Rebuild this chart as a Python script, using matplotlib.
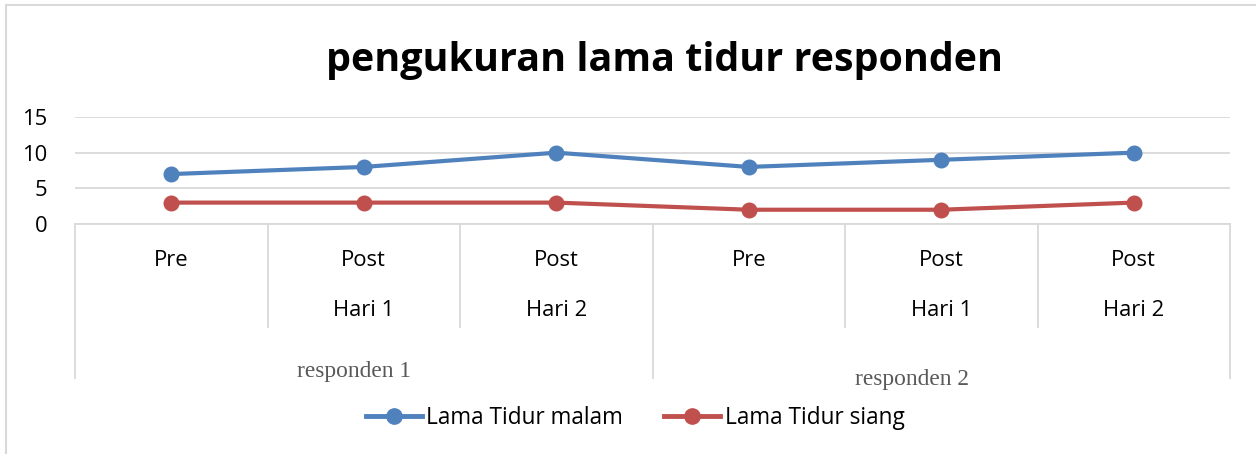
import matplotlib
matplotlib.use("Agg")
import matplotlib.pyplot as plt
from matplotlib.transforms import blended_transform_factory
from matplotlib.lines import Line2D

# ---- data ----
line1 = ["Pre", "Post", "Post", "Pre", "Post", "Post"]
line2 = ["", "Hari 1", "Hari 2", "", "Hari 1", "Hari 2"]
groups = ["responden 1", "responden 2"]
malam = [7, 8, 10, 8, 9, 10]
siang = [3, 3, 3, 2, 2, 3]
yticks = [0, 5, 10, 15]
title = "pengukuran lama tidur responden"
series_names = ["Lama Tidur malam", "Lama Tidur siang"]

W, H = 1256, 454
fig = plt.figure(figsize=(W / 100, H / 100), dpi=100)
plt.rcParams['font.family'] = ['Open Sans', 'DejaVu Sans']

def fy(py):
    return 1 - py / H

def fx(px):
    return px / W

GRID = "#D9D9D9"
BLUE = "#4F81BD"
RED = "#C0504D"
FS = 15.8

ax = fig.add_axes([fx(75), fy(224), fx(1230) - fx(75), fy(117) - fy(224)])
x = list(range(len(malam)))
ax.plot(x, malam, color=BLUE, lw=3, marker="o", ms=10.5, zorder=3, solid_capstyle="round")
ax.plot(x, siang, color=RED, lw=3, marker="o", ms=10.5, zorder=3, solid_capstyle="round")
ax.set_xlim(-0.5, len(malam) - 0.5)
ax.set_ylim(0, 15)
ax.set_yticks(yticks)
ax.set_yticklabels([str(v) for v in yticks], fontsize=15.8)
ax.tick_params(axis="y", length=0, pad=20)
ax.set_xticks([])
for s in ["top", "right", "left"]:
    ax.spines[s].set_visible(False)
ax.spines["bottom"].set_color(GRID)
ax.spines["bottom"].set_linewidth(1.3)
ax.grid(axis="y", color=GRID, lw=1.3)
ax.set_axisbelow(True)

# multi-level category axis
tr = blended_transform_factory(ax.transData, fig.transFigure)
n = len(malam)
for b in range(n + 1):
    xb = b - 0.5
    if b % 3 == 0:
        y_end = 378
    else:
        y_end = 327
    ax.add_line(Line2D([xb, xb], [fy(224), fy(y_end)], transform=tr, color=GRID,
                       lw=1.3, clip_on=False))
for i in range(n):
    ax.text(i, fy(261), line1[i], transform=tr, ha="center", va="center", fontsize=FS)
    if line2[i]:
        ax.text(i, fy(311), line2[i], transform=tr, ha="center", va="center", fontsize=FS)

grp_pos = [(0.95, 371), (3.85, 380)]
for g, (gx, gy) in zip(groups, grp_pos):
    ax.text(gx, fy(gy), g, transform=tr, ha="center", va="center", fontsize=16.8,
            family="Liberation Serif", color="#595959")

fig.text(fx(665), fy(60), title, ha="center", va="center", fontsize=28.4, fontweight="bold")

handles = [Line2D([], [], color=BLUE, lw=3.5, marker="o", ms=11),
           Line2D([], [], color=RED, lw=3.5, marker="o", ms=11)]
fig.legend(handles, series_names, loc="center", bbox_to_anchor=(fx(635), fy(418)),
           ncol=2, frameon=False, fontsize=16.3, handlelength=2.5, handletextpad=0.18,
           columnspacing=1.8)

# outer chart border (top and left visible)
fig.add_artist(Line2D([fx(6), 1], [fy(5), fy(5)], color=GRID, lw=1.5))
fig.add_artist(Line2D([fx(6), fx(6)], [fy(5), 0], color=GRID, lw=1.5))

fig.savefig("out.png", dpi=100)
